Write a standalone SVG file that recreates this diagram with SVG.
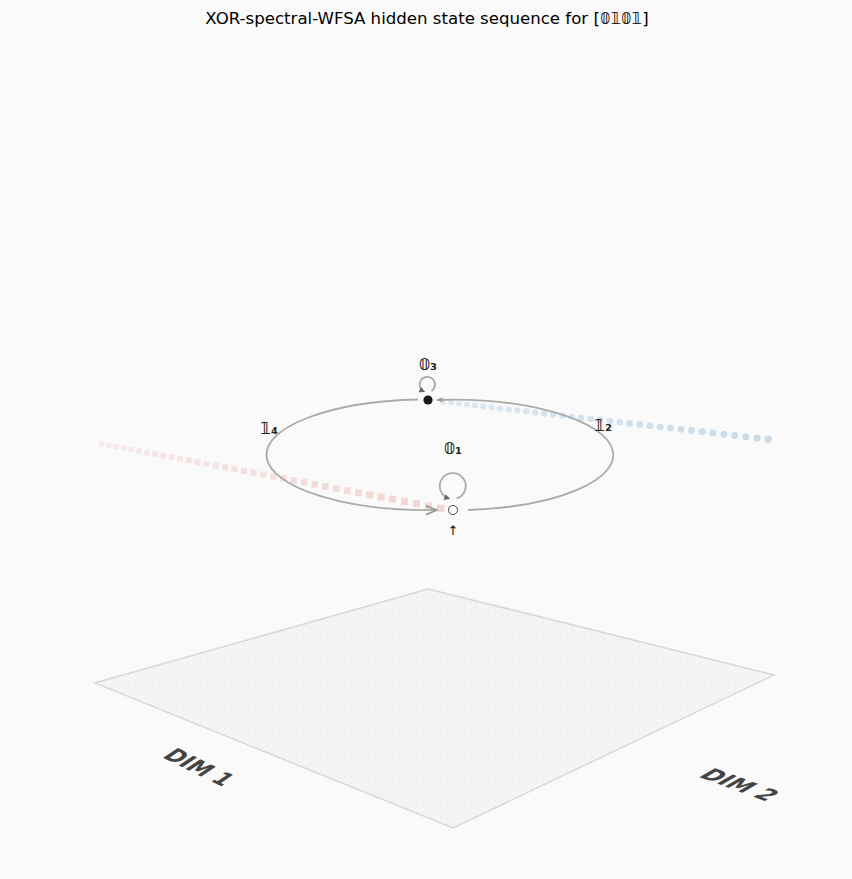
<svg xmlns="http://www.w3.org/2000/svg" xmlns:xlink="http://www.w3.org/1999/xlink" width="852" height="879" viewBox="0 0 852 879">
<style>
.lbl{font-family:"DejaVu Sans","Noto Sans",sans-serif;font-size:16px;font-weight:bold;fill:#222;text-anchor:middle}
.edge{fill:none;stroke:#aaaaaa;stroke-width:1.8}
.loop{fill:none;stroke:#aaaaaa;stroke-width:1.8}
.axis{font-family:"DejaVu Sans","Liberation Sans",sans-serif;font-size:21px;font-weight:bold;fill:#444;text-anchor:middle}
.bd{fill:#b7cfe4}
.rs{fill:#eebcbc}
</style>
<defs>
<marker id="ah" viewBox="0 0 10 10" refX="9" refY="5" markerWidth="7" markerHeight="7" orient="auto" markerUnits="userSpaceOnUse">
<path d="M0,1 L10,5 L0,9 L3,5 z" fill="#999"/>
</marker>
<marker id="ahl" viewBox="0 0 12 10" refX="11" refY="5" markerWidth="14" markerHeight="11" orient="auto" markerUnits="userSpaceOnUse">
<path d="M1,1 L11,5 L1,9" fill="none" stroke="#999" stroke-width="1.6"/>
</marker>
<marker id="ahs" viewBox="0 0 10 10" refX="8" refY="5" markerWidth="6" markerHeight="6" orient="auto" markerUnits="userSpaceOnUse">
<path d="M0,0 L10,5 L0,10 z" fill="#666"/>
</marker>
<rect id="sq" x="-3" y="-3" width="6" height="6"/>
<pattern id="dots" width="6" height="6" patternUnits="userSpaceOnUse">
<rect width="6" height="6" fill="#f4f4f4"/>
<circle cx="3" cy="3" r="0.8" fill="#ececec"/>
</pattern>
</defs>
<rect width="852" height="879" fill="#fafafa"/>
<text x="427" y="24" font-family="DejaVu Sans, sans-serif" font-size="16.6" text-anchor="middle" fill="#000">XOR-spectral-WFSA hidden state sequence for [𝟘𝟙𝟘𝟙]</text>

<g id="plane">
<polygon points="428,589 774,675 453,828 95,683" fill="url(#dots)" stroke="#d8d8d8" stroke-width="1.5"/>
<text class="axis" transform="translate(192,772) rotate(26) skewX(-30)">DIM 1</text>
<text class="axis" transform="translate(732,789) rotate(20) skewX(-40) scale(1.08,0.9)">DIM 2</text>
</g>

<g id="trail-red" class="rs">
<use href="#sq" transform="translate(101.7,444.0) scale(0.85)" opacity="0.25"/>
<use href="#sq" transform="translate(108.9,445.4) scale(0.86)" opacity="0.26"/>
<use href="#sq" transform="translate(116.2,446.8) scale(0.87)" opacity="0.27"/>
<use href="#sq" transform="translate(123.7,448.2) scale(0.88)" opacity="0.28"/>
<use href="#sq" transform="translate(131.3,449.6) scale(0.89)" opacity="0.29"/>
<use href="#sq" transform="translate(139.1,451.1) scale(0.9)" opacity="0.3"/>
<use href="#sq" transform="translate(146.9,452.6) scale(0.91)" opacity="0.31"/>
<use href="#sq" transform="translate(155.0,454.1) scale(0.92)" opacity="0.32"/>
<use href="#sq" transform="translate(163.3,455.7) scale(0.93)" opacity="0.33"/>
<use href="#sq" transform="translate(171.6,457.3) scale(0.94)" opacity="0.34"/>
<use href="#sq" transform="translate(180.1,458.9) scale(0.95)" opacity="0.35"/>
<use href="#sq" transform="translate(188.8,460.5) scale(0.96)" opacity="0.36"/>
<use href="#sq" transform="translate(197.6,462.2) scale(0.97)" opacity="0.37"/>
<use href="#sq" transform="translate(206.5,463.9) scale(0.98)" opacity="0.38"/>
<use href="#sq" transform="translate(215.6,465.6) scale(0.99)" opacity="0.39"/>
<use href="#sq" transform="translate(224.9,467.4) scale(1.0)" opacity="0.4"/>
<use href="#sq" transform="translate(234.3,469.2) scale(1.01)" opacity="0.41"/>
<use href="#sq" transform="translate(243.8,471.0) scale(1.02)" opacity="0.42"/>
<use href="#sq" transform="translate(253.5,472.8) scale(1.03)" opacity="0.43"/>
<use href="#sq" transform="translate(263.3,474.7) scale(1.04)" opacity="0.44"/>
<use href="#sq" transform="translate(273.3,476.6) scale(1.05)" opacity="0.45"/>
<use href="#sq" transform="translate(283.4,478.5) scale(1.06)" opacity="0.46"/>
<use href="#sq" transform="translate(293.7,480.4) scale(1.07)" opacity="0.47"/>
<use href="#sq" transform="translate(304.1,482.4) scale(1.08)" opacity="0.48"/>
<use href="#sq" transform="translate(314.7,484.4) scale(1.09)" opacity="0.49"/>
<use href="#sq" transform="translate(325.4,486.4) scale(1.1)" opacity="0.5"/>
<use href="#sq" transform="translate(336.3,488.5) scale(1.11)" opacity="0.51"/>
<use href="#sq" transform="translate(347.3,490.6) scale(1.12)" opacity="0.52"/>
<use href="#sq" transform="translate(358.4,492.7) scale(1.13)" opacity="0.53"/>
<use href="#sq" transform="translate(369.8,494.9) scale(1.14)" opacity="0.54"/>
<use href="#sq" transform="translate(381.2,497.0) scale(1.15)" opacity="0.55"/>
<use href="#sq" transform="translate(392.7,499.2) scale(1.16)" opacity="0.56"/>
<use href="#sq" transform="translate(404.5,501.5) scale(1.17)" opacity="0.57"/>
<use href="#sq" transform="translate(416.4,503.7) scale(1.18)" opacity="0.58"/>
<use href="#sq" transform="translate(428.4,506.0) scale(1.19)" opacity="0.59"/>
<use href="#sq" transform="translate(440.6,508.3) scale(1.2)" opacity="0.6"/>
</g>

<g id="trail-blue" class="bd">
<circle cx="443.0" cy="401.7" r="3.0" opacity="0.4"/>
<circle cx="450.9" cy="402.6" r="3.0" opacity="0.41"/>
<circle cx="458.8" cy="403.5" r="3.0" opacity="0.42"/>
<circle cx="466.9" cy="404.5" r="3.0" opacity="0.43"/>
<circle cx="475.0" cy="405.4" r="3.1" opacity="0.44"/>
<circle cx="483.3" cy="406.4" r="3.1" opacity="0.45"/>
<circle cx="491.7" cy="407.3" r="3.1" opacity="0.46"/>
<circle cx="500.2" cy="408.3" r="3.1" opacity="0.47"/>
<circle cx="508.7" cy="409.3" r="3.1" opacity="0.48"/>
<circle cx="517.4" cy="410.3" r="3.1" opacity="0.49"/>
<circle cx="526.2" cy="411.3" r="3.2" opacity="0.5"/>
<circle cx="535.1" cy="412.4" r="3.2" opacity="0.51"/>
<circle cx="544.1" cy="413.4" r="3.2" opacity="0.52"/>
<circle cx="553.2" cy="414.5" r="3.2" opacity="0.53"/>
<circle cx="562.4" cy="415.5" r="3.2" opacity="0.54"/>
<circle cx="571.7" cy="416.6" r="3.2" opacity="0.55"/>
<circle cx="581.1" cy="417.7" r="3.3" opacity="0.56"/>
<circle cx="590.6" cy="418.8" r="3.3" opacity="0.57"/>
<circle cx="600.3" cy="419.9" r="3.3" opacity="0.58"/>
<circle cx="610.0" cy="421.1" r="3.3" opacity="0.59"/>
<circle cx="619.8" cy="422.2" r="3.3" opacity="0.6"/>
<circle cx="629.7" cy="423.4" r="3.3" opacity="0.61"/>
<circle cx="639.8" cy="424.5" r="3.4" opacity="0.62"/>
<circle cx="649.9" cy="425.7" r="3.4" opacity="0.63"/>
<circle cx="660.2" cy="426.9" r="3.4" opacity="0.64"/>
<circle cx="670.5" cy="428.1" r="3.4" opacity="0.65"/>
<circle cx="681.0" cy="429.3" r="3.4" opacity="0.66"/>
<circle cx="691.5" cy="430.5" r="3.4" opacity="0.67"/>
<circle cx="702.2" cy="431.7" r="3.5" opacity="0.68"/>
<circle cx="712.9" cy="433.0" r="3.5" opacity="0.69"/>
<circle cx="723.8" cy="434.2" r="3.5" opacity="0.7"/>
<circle cx="734.8" cy="435.5" r="3.5" opacity="0.71"/>
<circle cx="745.9" cy="436.8" r="3.5" opacity="0.72"/>
<circle cx="757.0" cy="438.1" r="3.5" opacity="0.73"/>
<circle cx="768.3" cy="439.4" r="3.6" opacity="0.75"/>
</g>

<g id="connectors">
<path class="edge" d="M418,399.5 A160 55 0 0 0 437,510" marker-end="url(#ahl)"/>
<path class="edge" d="M468,510 A160 55 0 0 0 437,400" marker-end="url(#ah)"/>
<path class="loop" d="M431.5,391 A7.7 7.7 0 1 0 424,391.5" marker-end="url(#ahs)"/>
<path class="loop" d="M456.5,498.5 A13 13 0 1 0 449,498.5" marker-end="url(#ahs)"/>
</g>

<g id="node-q3">
<circle cx="428" cy="400" r="4.6" fill="#1a1a1a"/>
<text class="lbl" x="428" y="370">𝟘₃</text>
</g>
<g id="node-q1">
<circle cx="453" cy="510" r="4.5" fill="#fff" stroke="#333" stroke-width="0.9"/>
<text class="lbl" x="453" y="454">𝟘₁</text>
<text x="453" y="535" font-family="DejaVu Sans, sans-serif" font-size="13" text-anchor="middle" fill="#111">↑</text>
</g>
<g id="label-e2">
<text class="lbl" x="603" y="431">𝟙₂</text>
</g>
<g id="label-e4">
<text class="lbl" x="269" y="434">𝟙₄</text>
</g>
</svg>
